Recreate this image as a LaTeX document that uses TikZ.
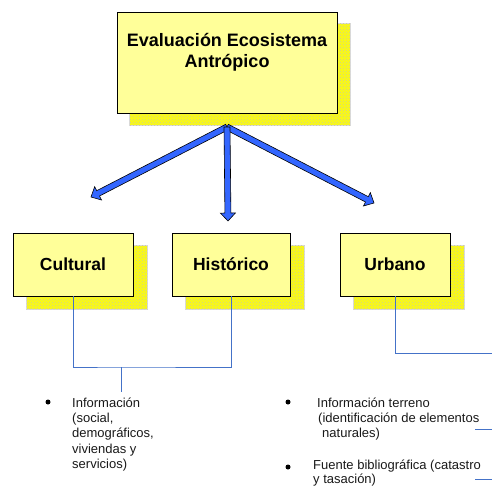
\documentclass[tikz,border=0pt]{standalone}
\usepackage{fontspec}
\setmainfont{Liberation Sans}
\usetikzlibrary{calc,patterns,backgrounds}
\definecolor{boxfill}{RGB}{255,255,153}
\definecolor{shadfill}{RGB}{250,250,20}
\definecolor{shaddot}{RGB}{205,205,150}
\definecolor{arrblue}{RGB}{51,102,255}
\definecolor{connblue}{RGB}{68,114,200}
\newcommand\myblockarrow[2]{%
  \coordinate (bp) at ($(#2)!8pt!(#1)$);
  \filldraw[arrowstyle]
    ($(#1)!3pt!90:(#2)$) -- ($(bp)!3pt!-90:(#1)$) -- ($(bp)!7.5pt!-90:(#1)$) -- (#2)
    -- ($(bp)!7.5pt!90:(#1)$) -- ($(bp)!3pt!90:(#1)$) -- ($(#1)!3pt!-90:(#2)$) -- cycle;}
\tikzset{
  box/.style={draw=black, line width=0.9pt, fill=boxfill, inner sep=0pt,
    font=\fontsize{17.5}{20}\selectfont\bfseries},
  smallbox/.style={box, minimum width=120pt, minimum height=63pt},
  shad/.style={fill=shadfill, draw=gray!30, line width=0.5pt},
  shaddots/.style={pattern=crosshatch dots, pattern color=shaddot},
  arrowstyle/.style={fill=arrblue, draw=black, line width=0.6pt, line join=miter},
  conn/.style={draw=connblue, line width=1pt},
  body/.style={font=\fontsize{13}{15.4}\selectfont, text=black!90, inner sep=0pt, align=left, anchor=base west},
  bullet/.style={circle, fill=black, inner sep=0pt, minimum size=5pt}
}
\begin{document}
\begin{tikzpicture}[x=1pt,y=-1pt]
\useasboundingbox (0,0) rectangle (492,487);
% boxes
\node[box, minimum width=220pt, minimum height=101pt] (top) at (227,62.5) {};
\node[font=\fontsize{18}{20.5}\selectfont\bfseries, align=center, inner sep=0pt, anchor=base] (toptext) at (227,67) {Evaluación Ecosistema\\Antrópico};
\node[smallbox] (cul) at (73,264.5) {Cultural};
\node[smallbox, minimum width=118pt] (his) at (231,264.5) {Histórico};
\node[smallbox, minimum width=110pt] (urb) at (395,264.5) {Urbano};
\begin{pgfonlayer}{background}
  \foreach \n/\dx/\dy in {top/13/12, cul/14/13, his/14/13, urb/14/13}{
    \path[shad] ([shift={(\dx,\dy)}]\n.north west) rectangle ([shift={(\dx,\dy)}]\n.south east);
    \path[shaddots] ([shift={(\dx,\dy)}]\n.north west) rectangle ([shift={(\dx,\dy)}]\n.south east);
  }
\end{pgfonlayer}
% arrows
\coordinate (o) at (227,127);
\coordinate (tl) at (91,197);
\coordinate (tm) at (228,221);
\coordinate (tr) at (374,203);
\myblockarrow{o}{tl}
\myblockarrow{o}{tr}
\myblockarrow{o}{tm}
% connectors
\coordinate (j1) at (121,367);
\coordinate (i1) at (121,392);
\coordinate (ur) at (492,353);
\draw[conn] (cul.south) |- (j1) -| (his.south);
\draw[conn] (j1) -- (i1);
\draw[conn] (urb.south) |- (ur);
\coordinate (s1a) at (475,429); \coordinate (s1b) at (492,429);
\coordinate (s2a) at (475,479); \coordinate (s2b) at (492,479);
\draw[conn] (s1a) -- (s1b);
\draw[conn] (s2a) -- (s2b);
% bullets and text (multi-line nodes: base = last line)
\node[bullet] (b1) at (48,402) {};
\node[body] (t1) at (72,468.6) {Información\\(social,\\demográficos,\\viviendas y\\servicios)};
\node[bullet] (b2) at (288,402) {};
\node[body] (t2) at (317,437.8) {Información terreno\\\hspace*{1pt}(identificación de elementos\\\hspace*{5pt}naturales)};
\node[bullet] (b3) at (288,467) {};
\node[body, font=\fontsize{13}{14.6}\selectfont] (t3) at (313,483.6) {Fuente bibliográfica (catastro\\y tasación)};
\end{tikzpicture}
\end{document}
